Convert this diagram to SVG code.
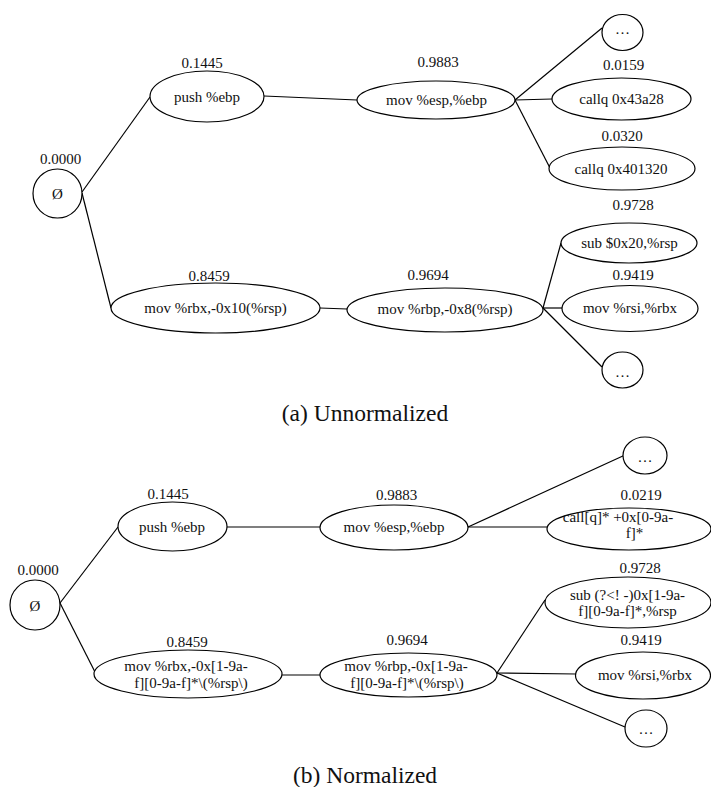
<svg xmlns="http://www.w3.org/2000/svg" width="711" height="787" viewBox="0 0 711 787">
<style>
.n{fill:#fff;stroke:#000;stroke-width:1.2}
.e line{stroke:#000;stroke-width:1.2}
text{font-family:'Liberation Serif','DejaVu Serif',serif;font-size:15px;fill:#111;text-anchor:middle}
.cap{font-size:23.5px}
</style>
<rect width="711" height="787" fill="#fff"/>
<g font-family="Liberation Serif, DejaVu Serif, serif">
<g id="edges-a" class="e">
<line x1="82" y1="192" x2="150" y2="97"/>
<line x1="82" y1="193" x2="111" y2="308"/>
<line x1="264" y1="96" x2="357" y2="100"/>
<line x1="515" y1="100" x2="602" y2="28"/>
<line x1="515" y1="100" x2="552" y2="99"/>
<line x1="515" y1="100" x2="550" y2="168"/>
<line x1="320" y1="308" x2="347" y2="309"/>
<line x1="543" y1="308" x2="561" y2="243"/>
<line x1="543" y1="308" x2="562" y2="308"/>
<line x1="543" y1="308" x2="602" y2="367"/>
</g>
<g id="a-root"><circle class="n" cx="57.5" cy="193.5" r="24.5"/><text x="60.5" y="164">0.0000</text><text x="57.5" y="199">Ø</text></g>
<g id="a-push"><ellipse class="n" cx="207" cy="96.5" rx="57" ry="25.5"/><text x="202" y="68">0.1445</text><text x="207" y="102">push %ebp</text></g>
<g id="a-movesp"><ellipse class="n" cx="436" cy="100" rx="79" ry="19"/><text x="438" y="67">0.9883</text><text x="436.5" y="105">mov %esp,%ebp</text></g>
<g id="a-dots1"><ellipse class="n" cx="622.5" cy="32.5" rx="20.5" ry="18"/><text x="622.5" y="34">…</text></g>
<g id="a-callq1"><ellipse class="n" cx="621.5" cy="99" rx="69.5" ry="21"/><text x="623.5" y="70">0.0159</text><text x="621.5" y="104">callq 0x43a28</text></g>
<g id="a-callq2"><ellipse class="n" cx="622" cy="168.5" rx="73" ry="21.5"/><text x="622" y="141">0.0320</text><text x="621" y="174">callq 0x401320</text></g>
<g id="a-movrbx"><ellipse class="n" cx="215.5" cy="308" rx="104.5" ry="25"/><text x="209" y="281">0.8459</text><text x="215.5" y="313">mov %rbx,-0x10(%rsp)</text></g>
<g id="a-movrbp"><ellipse class="n" cx="445" cy="310" rx="98" ry="22"/><text x="428" y="280">0.9694</text><text x="445" y="314">mov %rbp,-0x8(%rsp)</text></g>
<g id="a-sub"><ellipse class="n" cx="629" cy="243" rx="68" ry="20"/><text x="633" y="210">0.9728</text><text x="629.5" y="248">sub $0x20,%rsp</text></g>
<g id="a-movrsi"><ellipse class="n" cx="630" cy="308.5" rx="68" ry="23"/><text x="633" y="280">0.9419</text><text x="630" y="313">mov %rsi,%rbx</text></g>
<g id="a-dots2"><ellipse class="n" cx="622.5" cy="370" rx="20.5" ry="18"/><text x="622.5" y="377">…</text></g>
<text class="cap" x="365" y="421">(a) Unnormalized</text>

<g id="edges-b" class="e">
<line x1="60" y1="603" x2="118" y2="527"/>
<line x1="60" y1="603" x2="95" y2="672"/>
<line x1="227" y1="527" x2="320" y2="527"/>
<line x1="468" y1="527" x2="625" y2="455"/>
<line x1="468" y1="527" x2="547" y2="527"/>
<line x1="282" y1="675" x2="320" y2="675"/>
<line x1="497" y1="673" x2="545" y2="600"/>
<line x1="497" y1="673" x2="576" y2="674"/>
<line x1="497" y1="673" x2="625" y2="727"/>
</g>
<g id="b-root"><circle class="n" cx="35" cy="605" r="25"/><text x="38" y="575">0.0000</text><text x="35" y="611">Ø</text></g>
<g id="b-push"><ellipse class="n" cx="172.5" cy="526.5" rx="54.5" ry="24.5"/><text x="168" y="499">0.1445</text><text x="172" y="532">push %ebp</text></g>
<g id="b-movesp"><ellipse class="n" cx="394" cy="527.5" rx="74" ry="22.5"/><text x="396.5" y="500">0.9883</text><text x="394" y="532">mov %esp,%ebp</text></g>
<g id="b-dots1"><ellipse class="n" cx="645" cy="455.5" rx="22" ry="18.5"/><text x="645" y="462">…</text></g>
<g id="b-call"><ellipse class="n" cx="629" cy="529" rx="82" ry="21"/><text x="641" y="500">0.0219</text><text x="618" y="522">call[q]* +0x[0-9a-</text><text x="634.5" y="538">f]*</text></g>
<g id="b-sub"><ellipse class="n" cx="628" cy="602.5" rx="83" ry="25.5"/><text x="640" y="573">0.9728</text><text x="627.5" y="600">sub (?&lt;! -)0x[1-9a-</text><text x="627.5" y="616">f][0-9a-f]*,%rsp</text></g>
<g id="b-movrbx"><ellipse class="n" cx="188" cy="674" rx="94" ry="24"/><text x="187" y="647">0.8459</text><text x="186" y="671">mov %rbx,-0x[1-9a-</text><text x="191" y="688">f][0-9a-f]*\(%rsp\)</text></g>
<g id="b-movrbp"><ellipse class="n" cx="408.5" cy="675" rx="88.5" ry="22"/><text x="407" y="645">0.9694</text><text x="406" y="671">mov %rbp,-0x[1-9a-</text><text x="407" y="688">f][0-9a-f]*\(%rsp\)</text></g>
<g id="b-movrsi"><ellipse class="n" cx="643" cy="675.5" rx="67.5" ry="23.5"/><text x="641" y="645">0.9419</text><text x="645" y="680">mov %rsi,%rbx</text></g>
<g id="b-dots2"><ellipse class="n" cx="646" cy="728.5" rx="21" ry="18.5"/><text x="646" y="734">…</text></g>
<text class="cap" x="365" y="783">(b) Normalized</text>
</g>
</svg>
